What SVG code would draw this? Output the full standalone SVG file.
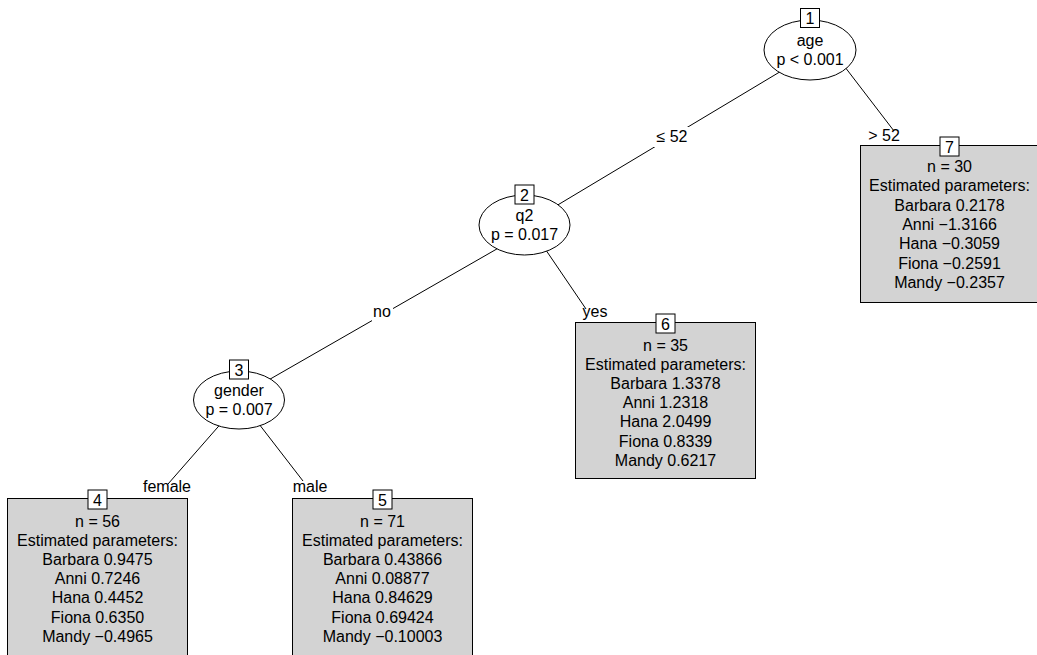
<svg xmlns="http://www.w3.org/2000/svg" width="1037" height="655" viewBox="0 0 1037 655">
<style>
text{font-family:"Liberation Sans",Arial,sans-serif;font-size:16px;fill:#000;text-anchor:middle}
.ell{fill:#fff;stroke:#000;stroke-width:1}
.term{fill:#d3d3d3;stroke:#000;stroke-width:1}
.id{fill:#fff;stroke:#000;stroke-width:1}
.edge{stroke:#000;stroke-width:1;fill:none}
.lbg{fill:#fff;stroke:none}
</style>
<rect width="1037" height="655" fill="#fff"/>
<g id="connectors">
<line class="edge" x1="785" y1="68.8" x2="550" y2="209.6"/>
<line class="edge" x1="830" y1="47.5" x2="894" y2="131"/>
<line class="edge" x1="510" y1="241.4" x2="260" y2="384.9"/>
<line class="edge" x1="535" y1="234" x2="586" y2="309"/>
<line class="edge" x1="228" y1="415.5" x2="168" y2="484"/>
<line class="edge" x1="252" y1="415" x2="303" y2="481"/>
<rect class="lbg" x="654" y="127" width="36" height="20"/>
<text x="672" y="142">≤ 52</text>
<rect class="lbg" x="372" y="303" width="21" height="18"/>
<text x="382" y="317">no</text>
<text x="884" y="141">&gt; 52</text>
<text x="595" y="317">yes</text>
<text x="167" y="492">female</text>
<text x="310" y="492">male</text>
</g>
<g id="node1">
<ellipse class="ell" cx="810" cy="50" rx="46" ry="30"/>
<rect class="id" x="800.5" y="8.5" width="19" height="19"/>
<text x="810" y="24">1</text>
<text x="810" y="46">age</text>
<text x="810" y="65">p &lt; 0.001</text>
</g>
<g id="node2">
<ellipse class="ell" cx="524.5" cy="225" rx="45.5" ry="30"/>
<rect class="id" x="515" y="185" width="19" height="19"/>
<text x="524.5" y="200.5">2</text>
<text x="524.5" y="221">q2</text>
<text x="524.5" y="240">p = 0.017</text>
</g>
<g id="node3">
<ellipse class="ell" cx="239" cy="400" rx="45.5" ry="29"/>
<rect class="id" x="229.5" y="360" width="19" height="19"/>
<text x="239" y="375.5">3</text>
<text x="239" y="396">gender</text>
<text x="239" y="415">p = 0.007</text>
</g>
<g id="node4">
<rect class="term" x="7.5" y="498.5" width="180" height="170"/>
<rect class="id" x="88" y="490" width="19" height="19"/>
<text x="97.5" y="505.5">4</text>
<text x="97.5" y="526.5">n = 56</text>
<text x="97.5" y="545.7">Estimated parameters:</text>
<text x="97.5" y="564.9">Barbara 0.9475</text>
<text x="97.5" y="584.1">Anni 0.7246</text>
<text x="97.5" y="603.3">Hana 0.4452</text>
<text x="97.5" y="622.5">Fiona 0.6350</text>
<text x="97.5" y="641.7">Mandy −0.4965</text>
</g>
<g id="node5">
<rect class="term" x="292.5" y="498.5" width="180" height="170"/>
<rect class="id" x="373" y="490" width="19" height="19"/>
<text x="382.5" y="505.5">5</text>
<text x="382.5" y="526.5">n = 71</text>
<text x="382.5" y="545.7">Estimated parameters:</text>
<text x="382.5" y="564.9">Barbara 0.43866</text>
<text x="382.5" y="584.1">Anni 0.08877</text>
<text x="382.5" y="603.3">Hana 0.84629</text>
<text x="382.5" y="622.5">Fiona 0.69424</text>
<text x="382.5" y="641.7">Mandy −0.10003</text>
</g>
<g id="node6">
<rect class="term" x="575.5" y="322.5" width="180" height="156"/>
<rect class="id" x="656" y="314" width="19" height="19"/>
<text x="665.5" y="329.5">6</text>
<text x="665.5" y="350.5">n = 35</text>
<text x="665.5" y="369.7">Estimated parameters:</text>
<text x="665.5" y="388.9">Barbara 1.3378</text>
<text x="665.5" y="408.1">Anni 1.2318</text>
<text x="665.5" y="427.3">Hana 2.0499</text>
<text x="665.5" y="446.5">Fiona 0.8339</text>
<text x="665.5" y="465.7">Mandy 0.6217</text>
</g>
<g id="node7">
<rect class="term" x="860.5" y="145.5" width="180" height="157"/>
<rect class="id" x="940" y="137" width="19" height="19"/>
<text x="949.5" y="152.5">7</text>
<text x="949.5" y="172">n = 30</text>
<text x="949.5" y="191.3">Estimated parameters:</text>
<text x="949.5" y="210.6">Barbara 0.2178</text>
<text x="949.5" y="229.9">Anni −1.3166</text>
<text x="949.5" y="249.2">Hana −0.3059</text>
<text x="949.5" y="268.5">Fiona −0.2591</text>
<text x="949.5" y="287.8">Mandy −0.2357</text>
</g>
</svg>
